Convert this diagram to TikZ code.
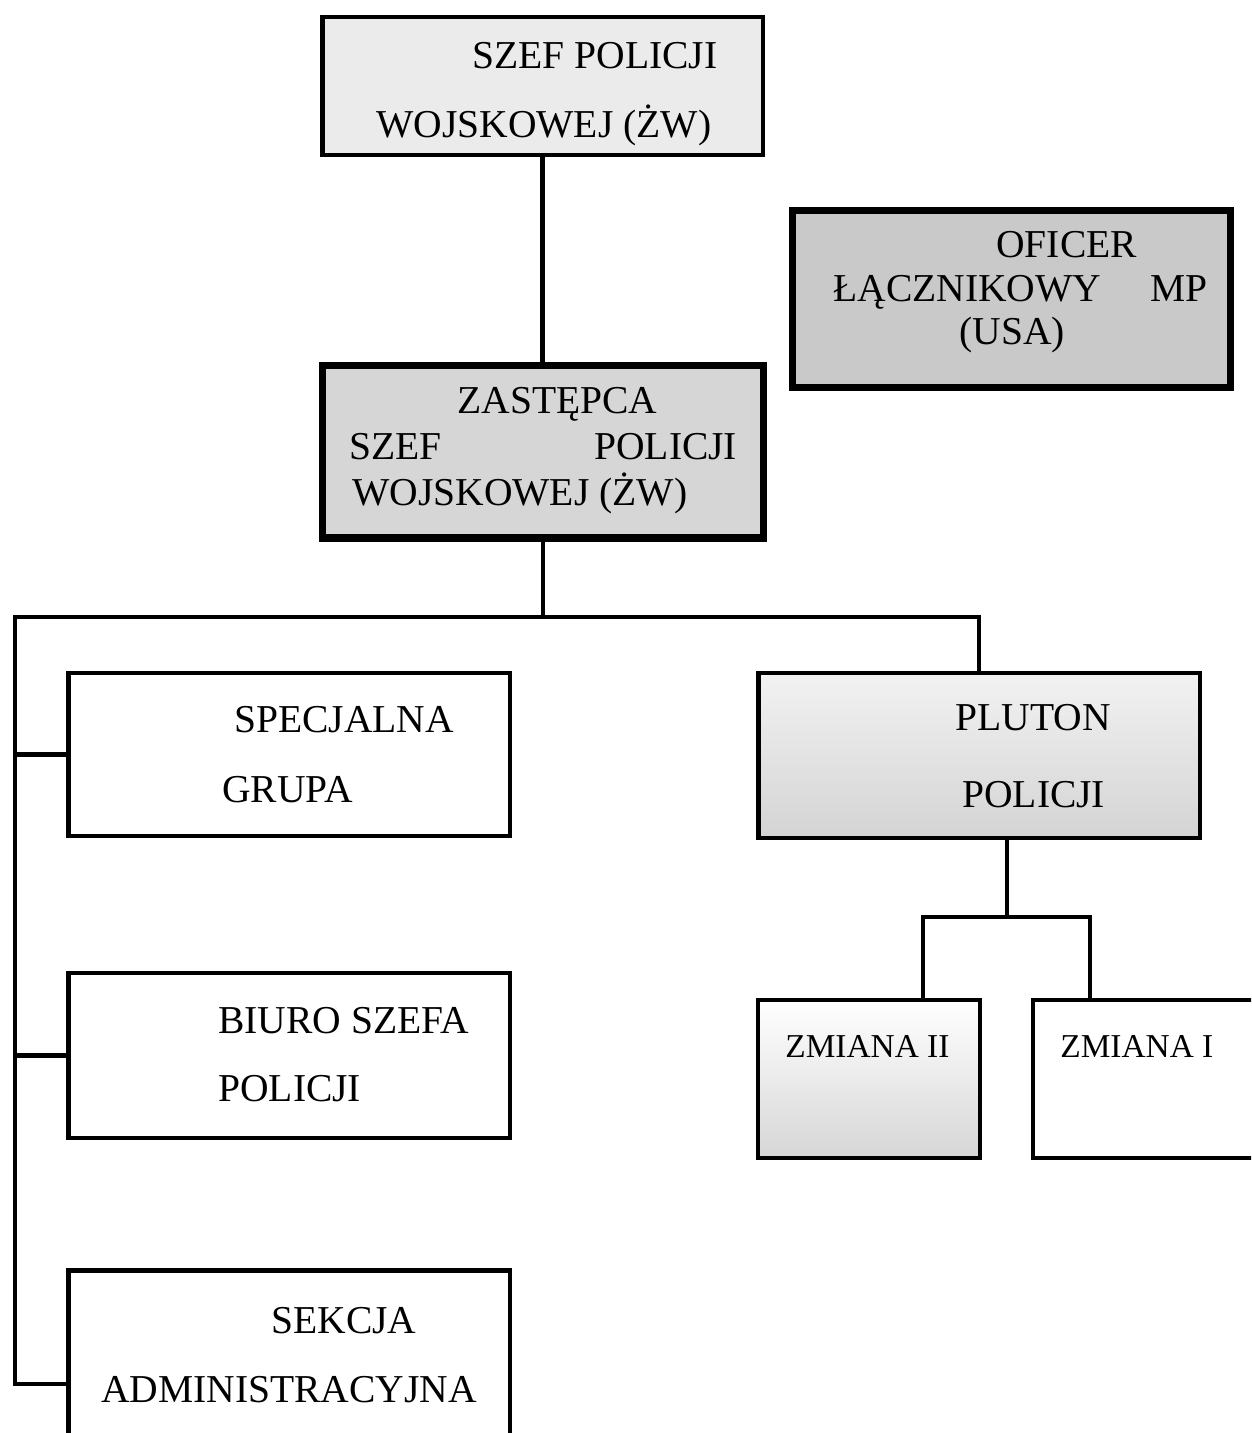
\documentclass[tikz,border=0pt]{standalone}
\usepackage{fontspec}
\setmainfont{Liberation Serif}
\usetikzlibrary{positioning}

\begin{document}
\begin{tikzpicture}[x=0.02cm, y=-0.02cm,
  box/.style={draw, line width=2.8pt, inner sep=0pt},
  thickbox/.style={draw, line width=4pt, inner sep=0pt},
  link/.style={line width=2.3pt},
  lbl/.style={anchor=base west, inner sep=0pt, font=\fontsize{22.5}{27}\selectfont},
  small/.style={anchor=base west, inner sep=0pt, font=\fontsize{19}{23}\selectfont}]
\clip (0,0) rectangle (1251,1433);

% top of the chart
\node[box, fill=gray!16, minimum width=8.82cm, minimum height=2.76cm] (a) at (542.5,86) {};
\node[thickbox, fill=gray!42, minimum width=8.78cm, minimum height=3.56cm] (b) at (1011.5,299) {};
\node[thickbox, fill=gray!32, minimum width=8.84cm, minimum height=3.46cm] (c) at (543,451.5) {};

\node[lbl] (a1) at (472,69) {SZEF POLICJI};
\node[lbl] (a2) at (376,137) {WOJSKOWEJ (ŻW)};

\node[lbl] (b1) at (996,257) {OFICER};
\node[lbl] (b2) at (833,301) {ŁĄCZNIKOWY};
\node[lbl] (b3) at (1150,301) {MP};
\node[lbl] (b4) at (959,344) {(USA)};

\node[lbl] (c1) at (457,413) {ZASTĘPCA};
\node[lbl] (c2) at (349,459) {SZEF};
\node[lbl] (c3) at (594,459) {POLICJI};
\node[lbl] (c4) at (352,505) {WOJSKOWEJ (ŻW)};

% left column
\node[box, minimum width=8.84cm, minimum height=3.26cm] (d) at (289,754.5) {};
\node[box, minimum width=8.84cm, minimum height=3.3cm] (e) at (289,1055.5) {};
\node[box, minimum width=8.84cm, minimum height=4.54cm] (f) at (289,1384) {};

\node[lbl] (d1) at (234,732) {SPECJALNA};
\node[lbl] (d2) at (222,802) {GRUPA};
\node[lbl] (e1) at (218,1033) {BIURO SZEFA};
\node[lbl] (e2) at (218,1101) {POLICJI};
\node[lbl] (f1) at (271,1333) {SEKCJA};
\node[lbl] (f2) at (101,1402) {ADMINISTRACYJNA};

% right column
\node[box, top color=gray!10, bottom color=gray!34, minimum width=8.84cm, minimum height=3.3cm] (g) at (979,755.5) {};
\node[box, top color=white, bottom color=gray!32, minimum width=4.44cm, minimum height=3.16cm] (h) at (869,1079) {};
\node[box, minimum width=4.74cm, minimum height=3.16cm] (i) at (1151.5,1079) {};

\node[lbl] (g1) at (955,730) {PLUTON};
\node[lbl] (g2) at (962,807) {POLICJI};
\node[small] (h1) at (785,1057) {ZMIANA II};
\node[small] (i1) at (1060,1057) {ZMIANA I};

% connectors
\coordinate (bus) at (15,617);
\coordinate (fork) at (1007,917);
\coordinate (hl) at (923,917);
\coordinate (il) at (1090,917);

\draw[link] (a.south) -- (a.south |- c.north);
\draw[link] (c.south) -- (c.south |- bus);
\draw[link] (g.north) |- (bus) |- (f.west);
\draw[link] (bus |- d.west) -- (d.west);
\draw[link] (bus |- e.west) -- (e.west);

\draw[link] (fork |- g.south) -- (fork);
\draw[link] (hl |- h.north) -- (hl) -- (il) -- (il |- i.north);
\end{tikzpicture}
\end{document}
